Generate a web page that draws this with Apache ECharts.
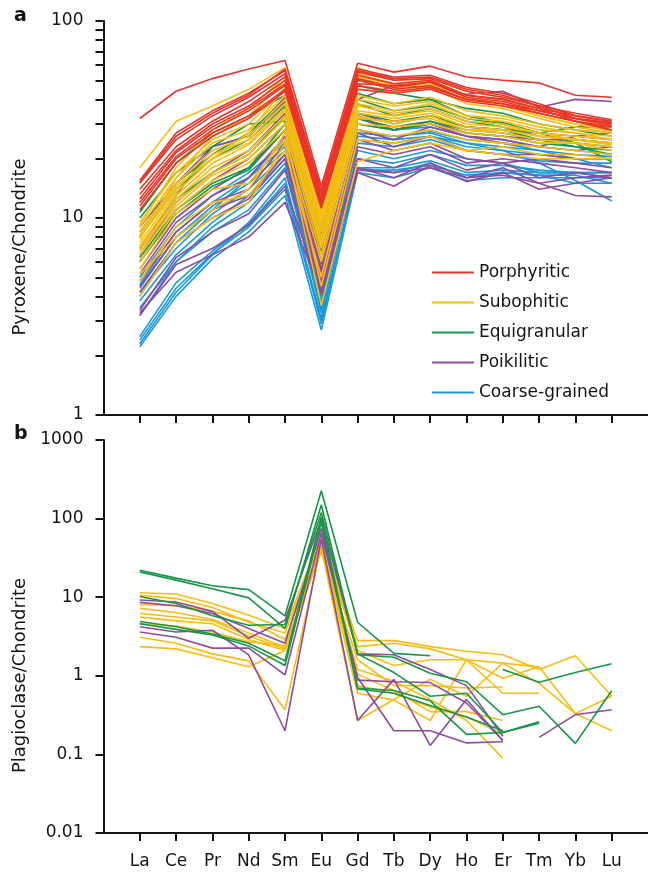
<!DOCTYPE html>
<html>
<head>
<meta charset="utf-8">
<script src="https://cdn.jsdelivr.net/npm/echarts@6/dist/echarts.min.js"></script>
<style>
  html, body { margin: 0; padding: 0; background: #ffffff; }
  #chart { width: 648px; height: 881px; }
</style>
</head>
<body>
<div id="chart"></div>
<script>
// Rare earth elements along the x axis
const REE = ['La', 'Ce', 'Pr', 'Nd', 'Sm', 'Eu', 'Gd', 'Tb', 'Dy', 'Ho', 'Er', 'Tm', 'Yb', 'Lu'];
const textures = ['Porphyritic', 'Subophitic', 'Equigranular', 'Poikilitic', 'Coarse-grained'];

// Tick values of the two log axes
const pyxTickValues = [1, 2, 3, 4, 5, 6, 7, 8, 9, 10, 20, 30, 40, 50, 60, 70, 80, 90, 100];
const plgTickValues = [0.01, 0.1, 1, 10, 100, 1000];

// (a) Pyroxene / chondrite, one row per analysis (La ... Lu)
const pyxPorphyritic = [
  [32, 44, 51, 57, 63, 14.5, 61, 55, 59, 52, 50, 48.5, 42, 41],
  [15.5, 27, 35, 43, 56, 13.5, 57, 52, 53, 46, 43, 38, 33, 31],
  [15, 25, 33, 41, 54, 13, 55, 50, 51, 44, 41, 37, 32, 30],
  [14, 23, 31, 39, 52, 12.5, 53, 48, 50, 42, 40, 36, 31, 29],
  [13.2, 22, 30, 37, 50, 12.2, 51, 46, 49, 41, 39, 35, 32, 30.5],
  [12.5, 21.5, 29, 36, 48, 12, 50, 45, 47, 40, 38, 34, 31, 28],
  [12, 20.5, 28, 35, 47, 11.8, 48, 47, 49, 42, 40, 36, 33, 31],
  [11.5, 20, 27, 33, 45, 11.5, 47, 44, 46, 40, 38, 35, 32, 29.5],
  [11, 19, 26, 32, 44, 11.2, 45, 43, 45, 39, 37, 34, 31, 28],
  [15.2, 26, 34, 42, 57, 13.8, 56, 51, 52, 45, 42, 37, 34, 31.5]
];
const pyxSubophitic = [
  [18, 31, 37, 45, 58, 13.2, 58, 50, 51, 44, 41, 37, 33, 30],
  [9.5, 17, 25, 30, 45, 10.5, 50, 45, 47, 40, 37, 33, 30, 28],
  [9, 16, 24, 28, 42, 10, 45, 43, 46, 38, 36, 32, 29, 27],
  [8.5, 15, 22, 26, 40, 9.5, 42, 38, 41, 35, 33, 30, 28, 27],
  [8, 14, 21, 25, 38, 9, 40, 37, 39, 33, 32, 29, 27, 26],
  [7.5, 13.5, 20, 24, 36, 8.5, 38, 35, 38, 32, 31, 28, 27, 25],
  [7.2, 13, 19, 23.5, 35, 8, 37, 34, 36, 31, 30, 27, 26, 25],
  [7, 12.5, 18, 22, 33, 7.5, 35, 33, 35, 30, 29, 27, 25, 24],
  [6.8, 12, 17, 21, 32, 7.2, 34, 32, 34, 29, 28, 26, 25, 24],
  [6.5, 11.5, 16.5, 20, 30, 7, 33, 30, 33, 28, 27, 25, 24, 23],
  [6, 11, 15.5, 19, 28, 6.5, 32, 31, 32, 28, 28, 26, 25, 23.5],
  [5.5, 10.5, 14, 15, 25, 6, 30, 29, 30, 27, 26, 24, 24, 22],
  [4.8, 9, 12, 13, 22, 5, 28, 26, 28, 25, 24, 23, 22, 21],
  [4.0, 7.5, 10, 12, 24, 3.6, 19.3, 22, 24, 22, 23, 21, 21, 20],
  [5.2, 8, 11, 14, 27, 4.5, 25, 24, 26, 22, 21, 20, 20, 20],
  [8.2, 14.5, 20, 27, 46, 11, 52, 46, 48, 41, 38, 34, 31, 29],
  [7.8, 16, 26, 33, 50, 12, 54, 48, 50, 42, 40, 35, 32, 29],
  [9.2, 18, 28, 36, 52, 12.5, 53, 47, 49, 41, 38, 33, 30, 27.5]
];
const pyxEquigranular = [
  [10.7, 19, 27, 33, 42, 9, 47, 43, 40, 33, 30.5, 27, 24, 19.3],
  [10, 17, 23, 30, 31, 8.5, 43, 38, 40, 36, 34, 30, 28, 26],
  [8.5, 15, 21, 27, 40, 8.2, 40, 35, 37, 32, 30, 27, 29, 29],
  [8, 14, 20, 25, 37, 8, 38, 33, 36, 31, 29, 26, 25, 24],
  [7, 12.5, 17, 21, 33, 7.5, 34, 31, 33, 29, 28, 25, 24, 23],
  [6.3, 11, 15, 18, 30, 7, 32, 29, 31, 28, 27, 25, 23, 22],
  [6, 10.5, 14.5, 17.5, 28, 6.6, 30, 28, 30, 27, 26, 24, 23, 21]
];
const pyxPoikilitic = [
  [7, 13, 23, 26, 41, 6.5, 40, 47, 46, 42.5, 44, 36.5, 40, 39],
  [6.5, 12, 17, 22, 34, 6, 34, 30, 33, 29, 28, 27, 26, 25],
  [6, 11, 15.5, 20, 30, 5.8, 32, 28, 31, 27, 26, 25, 25, 24],
  [5.5, 10, 14, 18, 28, 5.5, 28, 25, 29, 26, 25, 23, 22, 23],
  [5.2, 9.5, 13, 16, 26, 5.3, 27, 23, 26, 22, 21, 21, 20, 20],
  [4.8, 8.5, 12, 14, 24, 5, 25, 22, 24, 20, 19, 20, 19, 18],
  [4.5, 8, 11, 13, 21, 4.8, 23, 21, 23, 19, 20, 19, 18, 17],
  [4.2, 7.5, 10, 12.5, 20, 4.6, 20, 18, 21, 17.5, 19, 16, 17, 16],
  [3.4, 6.3, 8.5, 10.5, 17.5, 4.4, 18, 16, 19, 16, 18, 15, 16, 16.5],
  [3.3, 5.3, 6.5, 8, 12, 4.2, 17, 14.5, 18.5, 15.3, 17, 14, 15, 16],
  [3.2, 5.8, 7, 9.2, 14.5, 4.1, 17.5, 17, 18, 16, 16.5, 15, 13, 12.8],
  [9, 15, 23, 26, 39, 6.8, 33, 28, 30, 26, 24, 23, 26, 27]
];
const pyxCoarse = [
  [5, 9, 13, 17, 24, 4.5, 30, 28, 29, 26, 25, 23, 22, 21],
  [4.6, 8.5, 12, 16, 23, 4.2, 28, 26, 27, 24, 23, 22, 21, 20.5],
  [4.4, 8, 11.5, 15, 22, 4, 26, 25, 26, 23, 22, 21, 20, 20],
  [4.2, 7, 10.5, 14, 21, 3.8, 24, 23, 25, 22, 21, 19.5, 19, 19],
  [3.8, 6.5, 9.5, 13, 20, 3.6, 27, 26, 27.5, 25, 24, 22, 20, 18],
  [3.5, 6, 9, 12, 19, 3.4, 22, 20, 22, 20, 19, 17, 17, 17],
  [2.5, 4.7, 6.8, 9.3, 15, 3.1, 18, 18, 19.5, 17, 17.5, 17, 17, 17],
  [2.4, 4.4, 6.6, 9, 14, 3, 17.5, 17.5, 18.5, 16.5, 17, 16.5, 16.5, 15],
  [2.3, 4.2, 6.5, 9.5, 16, 2.9, 18, 17, 19, 16, 17, 16.5, 15, 15],
  [2.22, 4, 6.2, 8.5, 13, 2.7, 17, 16, 18, 15.5, 16, 16, 16, 16],
  [4.0, 7.5, 11, 16, 25, 3.7, 25, 24, 26, 24, 22, 19, 15.5, 12.2],
  [3.2, 6, 8.5, 11, 18, 3.3, 20, 19, 21, 18.5, 18.5, 17.5, 17, 16]
];

// (b) Plagioclase / chondrite (null = below detection)
const plgSubophitic = [
  [11.4, 11.0, 8.3, 5.9, 4.0, 62, 2.8, 2.8, 2.35, 2.05, 1.85, 1.2, 1.8, 0.55],
  [10.6, 9.6, 7.4, 4.8, 3.5, 55, 2.35, 2.6, 2.2, 1.6, 1.45, 1.3, 0.33, 0.2],
  [8.0, 7.8, 6.6, 5.0, 2.9, 48, 2.1, 1.35, 1.6, 1.6, 0.93, 1.3, null, null],
  [7.2, 6.4, 5.2, 3.5, 2.3, 45, 0.6, 0.49, 0.27, 1.6, 0.6, 0.6, null, null],
  [6.2, 5.6, 5.0, 3.2, 2.2, 42, 0.27, 0.5, 0.9, 0.55, 1.45, 0.8, 0.33, 0.55],
  [5.6, 5.0, 4.6, 2.9, 2.1, 40, 1.2, 0.85, 0.5, 0.27, 0.089, null, null, null],
  [4.6, 4.3, 3.6, 2.7, 2.4, 38, 1.6, 0.75, 0.75, 0.7, 0.72, null, null, null],
  [3.1, 2.6, 1.9, 1.55, 0.37, 45, 1.05, 0.65, 0.35, 0.35, 0.27, null, null, null],
  [2.35, 2.2, 1.7, 1.3, 2.1, 50, 0.75, 0.6, 0.4, 0.3, 0.18, null, null, null]
];
const plgEquigranular = [
  [22, 17.5, 14, 12.5, 5.8, 226, 4.8, 1.93, 1.8, null, null, null, null, null],
  [21, 16.5, 12.8, 9.8, 4.0, 150, 1.85, 1.72, 1.08, 0.84, 0.32, 0.41, 0.138, 0.645],
  [10.2, 8.3, 5.8, 4.4, 4.5, 120, 1.9, 1.1, 0.55, 0.6, 0.19, 0.25, null, null],
  [4.9, 4.2, 3.4, 2.6, 1.55, 105, 0.7, 0.65, 0.48, 0.18, 0.19, 0.26, null, null],
  [4.6, 3.9, 3.3, 2.4, 1.35, 90, 0.68, 0.6, 0.42, 0.3, 0.2, null, null, null],
  [null, null, null, null, null, null, null, null, null, null, 1.2, 0.83, 1.1, 1.42]
];
const plgPoikilitic = [
  [9.2, 8.7, 6.6, 3.0, 5.1, 98, 1.9, 1.85, 1.2, 0.75, 0.17, null, null, null],
  [8.6, 7.8, 6.2, 4.0, 2.6, 75, 0.88, 0.84, 0.82, 0.45, 0.15, null, null, null],
  [4.2, 3.6, 3.8, 1.85, 0.2, 55, 0.27, 0.9, 0.13, 0.5, 0.15, null, null, null],
  [3.6, 3.1, 2.25, 2.25, 1.03, 65, 0.95, 0.2, 0.2, 0.14, 0.145, null, null, null],
  [null, null, null, null, null, null, null, null, null, null, null, 0.165, 0.32, 0.37]
];

const colors = {
  'Porphyritic': '#e8352b',
  'Subophitic': '#f8bd12',
  'Equigranular': '#169646',
  'Poikilitic': '#8f4b9f',
  'Coarse-grained': '#1b98d8'
};

const FONT = 'DejaVu Sans';
const INK = '#141414';

function groupSeries(rows, name, panel) {
  return rows.map(function (row) {
    return {
      type: 'line',
      name: name,
      xAxisIndex: panel,
      yAxisIndex: panel,
      data: row.map(function (v, i) { return [i, v]; }),
      symbol: 'none',
      showSymbol: false,
      connectNulls: false,
      silent: true,
      lineStyle: { color: colors[name], width: 1.6 },
      itemStyle: { color: colors[name] }
    };
  });
}

const series = [].concat(
  groupSeries(pyxCoarse, 'Coarse-grained', 0),
  groupSeries(pyxPoikilitic, 'Poikilitic', 0),
  groupSeries(pyxEquigranular, 'Equigranular', 0),
  groupSeries(pyxSubophitic, 'Subophitic', 0),
  groupSeries(pyxPorphyritic, 'Porphyritic', 0),
  groupSeries(plgSubophitic, 'Subophitic', 1),
  groupSeries(plgPoikilitic, 'Poikilitic', 1),
  groupSeries(plgEquigranular, 'Equigranular', 1)
);

const reeIdx = REE.map(function (_, i) { return i; });

function xAxis(gridIndex, showLabels) {
  return {
    type: 'value', gridIndex: gridIndex, min: -1, max: REE.length, interval: 1,
    axisLine: { show: true, onZero: false, lineStyle: { color: INK, width: 2 } },
    axisTick: { show: true, inside: false, length: 8, customValues: reeIdx, lineStyle: { color: INK, width: 2 } },
    axisLabel: {
      show: showLabels, customValues: reeIdx, margin: 20,
      formatter: function (v) { return REE[Math.round(v)] || ''; },
      fontFamily: FONT, fontSize: 17, color: INK
    },
    splitLine: { show: false }
  };
}

// the axis title sits a little below the middle of its axis
function yAxis(gridIndex, min, max, ticks, name, titleShift) {
  return {
    type: 'log', logBase: 10, gridIndex: gridIndex, min: min, max: max,
    name: name, nameLocation: 'middle', nameGap: 74,
    nameTextStyle: { fontFamily: FONT, fontSize: 18, color: INK, padding: [0, titleShift * 2, 0, 0] },
    axisLine: { show: true, onZero: false, lineStyle: { color: INK, width: 2 } },
    axisTick: { show: true, inside: false, length: 8, customValues: ticks, lineStyle: { color: INK, width: 2 } },
    axisLabel: {
      fontFamily: FONT, fontSize: 17, color: INK, margin: 20,
      formatter: function (v) { return String(+v.toPrecision(6)); }
    },
    splitLine: { show: false },
    minorTick: { show: false }
  };
}

const chart = echarts.init(document.getElementById('chart'), null, { renderer: 'canvas' });
chart.setOption({
  animation: false,
  backgroundColor: '#ffffff',
  title: [
    { text: 'a', left: 9, top: 2, textStyle: { fontFamily: FONT, fontSize: 19, fontWeight: 'bold', color: INK } },
    { text: 'b', left: 9, top: 420, textStyle: { fontFamily: FONT, fontSize: 19, fontWeight: 'bold', color: INK } }
  ],
  grid: [
    { left: 103.5, right: -2.5, top: 21, height: 394 },
    { left: 103.5, right: -2.5, top: 440, height: 393 }
  ],
  xAxis: [xAxis(0, false), xAxis(1, true)],
  yAxis: [
    yAxis(0, 1, 100, pyxTickValues, 'Pyroxene/Chondrite', 29),
    yAxis(1, 0.01, 1000, plgTickValues, 'Plagioclase/Chondrite', 39)
  ],
  legend: {
    show: true,
    data: textures,
    orient: 'vertical',
    left: 432,
    top: 264,
    padding: 0,
    icon: 'rect',
    itemWidth: 42,
    itemHeight: 2,
    itemGap: 13,
    selectedMode: false,
    textStyle: { fontFamily: FONT, fontSize: 17, color: INK }
  },
  series: series
});
</script>
</body>
</html>
